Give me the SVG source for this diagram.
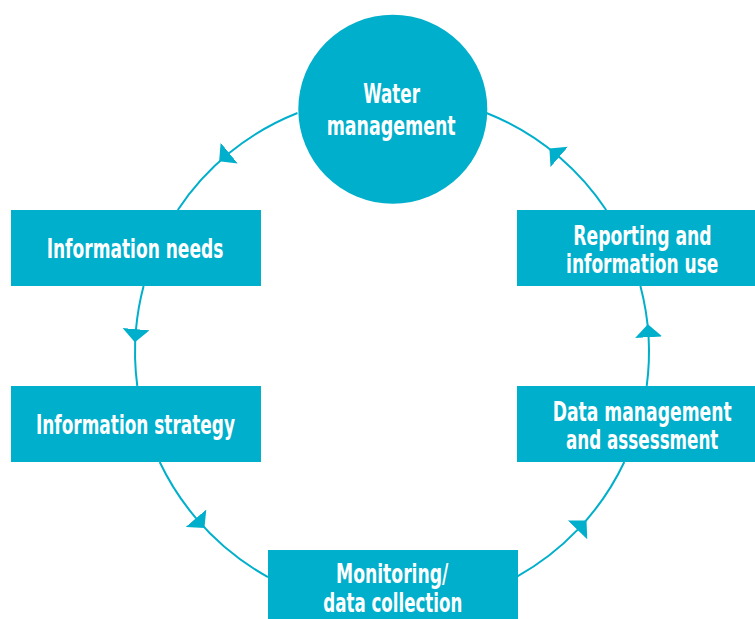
<svg xmlns="http://www.w3.org/2000/svg" width="755" height="619" viewBox="0 0 755 619">
  <style>
    .node { fill: #00afcb; }
    .label { fill: #ffffff; font-family: "Liberation Sans Narrow", "DejaVu Sans Condensed", "Liberation Sans", sans-serif; font-weight: bold; font-size: 26px; text-anchor: middle; }
    .conn { fill: none; stroke: #00afcb; stroke-width: 2; marker-mid: url(#arrow); }
  </style>
  <defs>
    <marker id="arrow" viewBox="0 0 13 27" refX="0" refY="13.5" markerWidth="13" markerHeight="27" markerUnits="userSpaceOnUse" orient="auto">
      <polygon points="0,0 13,13.5 0,27" fill="#00afcb"/>
    </marker>
  </defs>
  <rect width="755" height="619" fill="#ffffff"/>
  <g id="connectors">
    <path class="conn" d="M297.5,113 A257,257 0 0 0 229.2,153.1 A257,257 0 0 0 177.8,210"/>
    <path class="conn" d="M143.6,286 A257,257 0 0 0 136,329.2 A257,257 0 0 0 137.3,386"/>
    <path class="conn" d="M159.7,462 A257,257 0 0 0 196,518.2 A257,257 0 0 0 268,577.1"/>
    <path class="conn" d="M517,576.6 A257,257 0 0 0 577.5,529.9 A257,257 0 0 0 624.3,462"/>
    <path class="conn" d="M646.7,386 A257,257 0 0 0 648.6,337.2 A257,257 0 0 0 640.4,286"/>
    <path class="conn" d="M606.2,210 A257,257 0 0 0 559.3,156.9 A257,257 0 0 0 486.5,113"/>
  </g>
  <g id="water-management">
    <circle class="node" cx="392.8" cy="109.2" r="94.5"/>
    <text class="label" x="391.6" y="103.3" textLength="56.7" lengthAdjust="spacingAndGlyphs">Water</text>
    <text class="label" x="391.2" y="134.5" textLength="129" lengthAdjust="spacingAndGlyphs">management</text>
  </g>
  <g id="information-needs">
    <rect class="node" x="11" y="210" width="250" height="76"/>
    <text class="label" x="135" y="258.3" textLength="176.7" lengthAdjust="spacingAndGlyphs">Information needs</text>
  </g>
  <g id="information-strategy">
    <rect class="node" x="11" y="386" width="250" height="76"/>
    <text class="label" x="135.5" y="434.3" textLength="199" lengthAdjust="spacingAndGlyphs">Information strategy</text>
  </g>
  <g id="monitoring">
    <rect class="node" x="268" y="550" width="250" height="69"/>
    <text class="label" x="392.2" y="583.3" textLength="112.3" lengthAdjust="spacingAndGlyphs">Monitoring/</text>
    <text class="label" x="392.8" y="611.7" textLength="139" lengthAdjust="spacingAndGlyphs">data collection</text>
  </g>
  <g id="data-management">
    <rect class="node" x="517" y="386" width="238" height="76"/>
    <text class="label" x="642.2" y="421" textLength="179" lengthAdjust="spacingAndGlyphs">Data management</text>
    <text class="label" x="642.2" y="448.7" textLength="152.3" lengthAdjust="spacingAndGlyphs">and assessment</text>
  </g>
  <g id="reporting">
    <rect class="node" x="517" y="210" width="238" height="76"/>
    <text class="label" x="642.5" y="245" textLength="138.3" lengthAdjust="spacingAndGlyphs">Reporting and</text>
    <text class="label" x="642.2" y="272.7" textLength="152.3" lengthAdjust="spacingAndGlyphs">information use</text>
  </g>
</svg>
